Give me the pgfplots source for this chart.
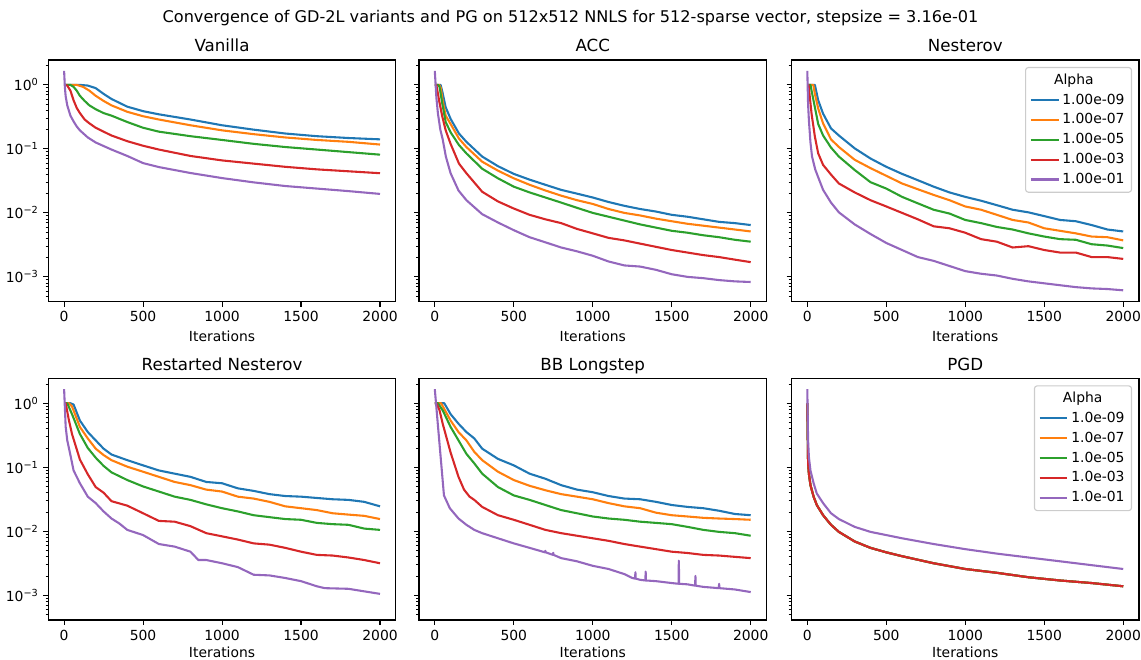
\documentclass[border=0pt]{standalone}
\usepackage{fontspec}
\setmainfont{DejaVu Sans}
\usepackage{pgfplots}
\pgfplotsset{compat=1.18}
\definecolor{c0}{HTML}{1F77B4}
\definecolor{c1}{HTML}{FF7F0E}
\definecolor{c2}{HTML}{2CA02C}
\definecolor{c3}{HTML}{D62728}
\definecolor{c4}{HTML}{9467BD}
\pgfplotsset{
  tick pos=left, tick align=outside,
  major tick length=3.5pt, minor tick length=2pt,
  tick style={black},
  every major tick/.append style={line width=0.8pt},
  every minor tick/.append style={line width=0.6pt},
  axis line style={line width=0.8pt},
  tick label style={font=\fontsize{10}{12}\selectfont},
  label style={font=\fontsize{10}{12}\selectfont},
  xlabel style={yshift=0.7pt},
  title style={font=\fontsize{12}{14}\selectfont, at={(0.5,1)}, anchor=base},
  every axis plot/.append style={line width=1.5pt, line join=round},
  legend cell align=left,
}
\begin{document}
\begin{tikzpicture}
\useasboundingbox (0pt,0pt) rectangle (821.52pt,-474.48pt);
\node[anchor=base, font=\fontsize{11.6}{14}\selectfont] at (410.76pt,-16pt) {Convergence of GD-2L variants and PG on 512x512 NNLS for 512-sparse vector, stepsize = 3.16e-01};

% ---------------- Vanilla
\begin{axis}[scale only axis, width=250.2pt, height=174.0pt, anchor=north west, at={(34.78pt,-43.2pt)},
  ymode=log, xmin=-100, xmax=2100, ymin=4.1e-4, ymax=2.45,
  xtick={0,500,1000,1500,2000}, ytick={1e-3,1e-2,1e-1,1},
  minor ytick={5e-4,6e-4,7e-4,8e-4,9e-4,2e-3,3e-3,4e-3,5e-3,6e-3,7e-3,8e-3,9e-3,2e-2,3e-2,4e-2,5e-2,6e-2,7e-2,8e-2,9e-2,0.2,0.3,0.4,0.5,0.6,0.7,0.8,0.9,2},
  xticklabels={0,500,1000,1500,2000},
  yticklabels={10\textsuperscript{−3},10\textsuperscript{−2},10\textsuperscript{−1},10\textsuperscript{0}},
  xlabel={Iterations}, title={Vanilla}]
\addplot[c0] coordinates {(0,1)(100,1)(150,0.977)(200,0.891)(250,0.724)(300,0.603)(400,0.457)(500,0.389)(600,0.347)(800,0.288)(1000,0.234)(1200,0.2)(1400,0.174)(1600,0.158)(1800,0.148)(2000,0.141)};
\addplot[c1] coordinates {(0,1)(80,1)(120,0.933)(160,0.813)(200,0.676)(250,0.562)(300,0.479)(400,0.380)(500,0.324)(600,0.288)(800,0.234)(1000,0.195)(1200,0.170)(1400,0.151)(1600,0.138)(1800,0.129)(2000,0.117)};
\addplot[c2] coordinates {(0,1)(40,1)(60,0.933)(80,0.813)(100,0.676)(130,0.562)(160,0.479)(200,0.417)(250,0.363)(300,0.331)(400,0.263)(500,0.214)(600,0.186)(800,0.158)(1000,0.138)(1200,0.120)(1400,0.107)(1600,0.0977)(1800,0.0891)(2000,0.0813)};
\addplot[c3] coordinates {(0,1)(20,0.977)(40,0.813)(60,0.575)(80,0.437)(100,0.363)(130,0.288)(160,0.251)(200,0.214)(250,0.186)(300,0.162)(400,0.132)(500,0.112)(600,0.0977)(800,0.0776)(1000,0.0661)(1200,0.0589)(1400,0.0525)(1600,0.0479)(1800,0.0447)(2000,0.0417)};
\addplot[c4] coordinates {(0,1.66)(5,0.912)(10,0.661)(20,0.479)(40,0.331)(60,0.269)(80,0.224)(100,0.195)(150,0.151)(200,0.126)(300,0.0977)(400,0.0776)(500,0.060)(600,0.0520)(800,0.0420)(1000,0.0350)(1200,0.0300)(1400,0.0263)(1600,0.024)(1800,0.0219)(2000,0.0198)};
\end{axis}

% ---------------- ACC
\begin{axis}[scale only axis, width=250.2pt, height=174.0pt, anchor=north west, at={(301.68pt,-43.2pt)},
  ymode=log, xmin=-100, xmax=2100, ymin=4.1e-4, ymax=2.45,
  xtick={0,500,1000,1500,2000}, ytick={1e-3,1e-2,1e-1,1},
  minor ytick={5e-4,6e-4,7e-4,8e-4,9e-4,2e-3,3e-3,4e-3,5e-3,6e-3,7e-3,8e-3,9e-3,2e-2,3e-2,4e-2,5e-2,6e-2,7e-2,8e-2,9e-2,0.2,0.3,0.4,0.5,0.6,0.7,0.8,0.9,2},
  xticklabels={0,500,1000,1500,2000}, yticklabels={},
  xlabel={Iterations}, title={ACC}]
\addplot[c0] coordinates {(0,1)(37,1)(48,0.776)(69,0.447)(100,0.295)(153,0.174)(200,0.129)(300,0.0759)(400,0.0537)(500,0.0407)(600,0.0331)(700,0.0275)(800,0.0229)(900,0.0200)(1000,0.0174)(1100,0.0148)(1200,0.0129)(1300,0.0115)(1400,0.0105)(1500,0.00933)(1600,0.00871)(1700,0.00794)(1800,0.00724)(1900,0.00692)(2000,0.00646)};
\addplot[c1] coordinates {(0,1)(28,1)(38,0.891)(50,0.562)(69,0.331)(100,0.245)(153,0.145)(200,0.107)(300,0.0631)(400,0.0457)(500,0.0347)(600,0.0275)(700,0.0224)(800,0.0186)(900,0.0158)(1000,0.0138)(1100,0.0115)(1200,0.0100)(1300,0.00912)(1400,0.00813)(1500,0.00741)(1600,0.00676)(1700,0.00631)(1800,0.00589)(1900,0.00550)(2000,0.00513)};
\addplot[c2] coordinates {(0,1)(20,1)(30,0.933)(48,0.501)(69,0.263)(100,0.182)(153,0.115)(200,0.0851)(300,0.0490)(400,0.0347)(500,0.0257)(600,0.0209)(700,0.0174)(800,0.0145)(900,0.0120)(1000,0.0100)(1100,0.00871)(1200,0.00759)(1300,0.00661)(1400,0.00589)(1500,0.00525)(1600,0.00490)(1700,0.00447)(1800,0.00417)(1900,0.00380)(2000,0.00355)};
\addplot[c3] coordinates {(0,1)(10,1)(27,0.575)(48,0.316)(69,0.195)(100,0.120)(153,0.0589)(200,0.0417)(300,0.0214)(400,0.0151)(500,0.0117)(600,0.00933)(700,0.00794)(800,0.00692)(900,0.00562)(1000,0.00479)(1100,0.00407)(1200,0.00372)(1300,0.00331)(1400,0.00295)(1500,0.00263)(1600,0.00240)(1700,0.00219)(1800,0.00204)(1900,0.00186)(2000,0.00170)};
\addplot[c4] coordinates {(0,1.66)(10,0.631)(20,0.355)(35,0.200)(50,0.141)(70,0.0759)(100,0.0417)(150,0.0224)(200,0.0158)(300,0.00955)(400,0.00708)(500,0.00537)(600,0.00417)(700,0.00347)(800,0.00288)(900,0.00251)(1000,0.00214)(1100,0.00174)(1200,0.00151)(1300,0.00145)(1400,0.00129)(1500,0.00110)(1600,0.00100)(1700,0.000955)(1800,0.000891)(1900,0.000851)(2000,0.000832)};
\end{axis}

% ---------------- Nesterov
\begin{axis}[scale only axis, width=250.2pt, height=174.0pt, anchor=north west, at={(569.88pt,-43.2pt)},
  ymode=log, xmin=-100, xmax=2100, ymin=4.1e-4, ymax=2.45,
  xtick={0,500,1000,1500,2000}, ytick={1e-3,1e-2,1e-1,1},
  minor ytick={5e-4,6e-4,7e-4,8e-4,9e-4,2e-3,3e-3,4e-3,5e-3,6e-3,7e-3,8e-3,9e-3,2e-2,3e-2,4e-2,5e-2,6e-2,7e-2,8e-2,9e-2,0.2,0.3,0.4,0.5,0.6,0.7,0.8,0.9,2},
  xticklabels={0,500,1000,1500,2000}, yticklabels={},
  xlabel={Iterations}, title={Nesterov},
  legend style={at={(1,1)}, anchor=north east, xshift=-5pt, yshift=-5pt,
      draw=black!20, line width=0.8pt, rounded corners=2pt, fill=white, fill opacity=0.8, text opacity=1,
      font=\fontsize{10}{12}\selectfont, row sep=0pt,
      nodes={inner sep=2pt, text height=8pt, text depth=2.3pt}},
  legend image code/.code={\draw[#1, line width=1.5pt] (0pt,0pt) -- (20pt,0pt);}]
\addlegendimage{empty legend}\addlegendentry{\hspace*{-6pt}Alpha}
\addplot[c0] coordinates {(0,1)(48,1)(69,0.575)(100,0.355)(150,0.209)(200,0.162)(300,0.102)(400,0.0708)(500,0.0525)(600,0.0407)(700,0.0324)(800,0.0257)(900,0.0209)(1000,0.0178)(1100,0.0155)(1200,0.0132)(1300,0.0112)(1400,0.0102)(1500,0.00891)(1600,0.00776)(1700,0.00741)(1800,0.00646)(1900,0.00550)(2000,0.00513)};
\addlegendentry{1.00e-09}
\addplot[c1] coordinates {(0,1)(38,1)(48,0.724)(69,0.427)(100,0.25)(150,0.141)(200,0.107)(300,0.0676)(400,0.0501)(500,0.0380)(600,0.0288)(700,0.0234)(800,0.0191)(900,0.0158)(1000,0.0126)(1100,0.0112)(1200,0.00933)(1300,0.00776)(1400,0.00708)(1500,0.00575)(1600,0.00525)(1700,0.00479)(1800,0.00427)(1900,0.00417)(2000,0.00372)};
\addlegendentry{1.00e-07}
\addplot[c2] coordinates {(0,1)(20,1)(27,0.813)(48,0.447)(69,0.245)(100,0.162)(150,0.105)(200,0.0759)(300,0.0468)(400,0.0302)(500,0.0240)(600,0.0178)(700,0.0141)(800,0.0112)(900,0.00977)(1000,0.00776)(1100,0.00692)(1200,0.00603)(1300,0.00550)(1400,0.00479)(1500,0.00427)(1600,0.00389)(1700,0.00380)(1800,0.00324)(1900,0.00309)(2000,0.00282)};
\addlegendentry{1.00e-05}
\addplot[c3] coordinates {(0,1)(8,1)(16,0.646)(27,0.355)(48,0.155)(69,0.0851)(100,0.0562)(153,0.0389)(200,0.0288)(300,0.0209)(400,0.0158)(500,0.0126)(600,0.0100)(700,0.00794)(800,0.00617)(900,0.00575)(1000,0.00490)(1100,0.00389)(1200,0.00355)(1300,0.00288)(1400,0.00302)(1500,0.00263)(1600,0.00240)(1700,0.00240)(1800,0.00204)(1900,0.00204)(2000,0.00191)};
\addlegendentry{1.00e-03}
\addplot[c4] coordinates {(0,1.66)(5,0.501)(10,0.282)(20,0.126)(30,0.0759)(50,0.0479)(70,0.0355)(100,0.0229)(150,0.0145)(200,0.0102)(300,0.00661)(400,0.00468)(500,0.00339)(600,0.00263)(700,0.00204)(800,0.00178)(900,0.00148)(1000,0.00123)(1100,0.00112)(1200,0.00105)(1300,0.000933)(1400,0.000851)(1500,0.000794)(1600,0.000741)(1700,0.000692)(1800,0.000661)(1900,0.000646)(2000,0.000617)};
\addlegendentry{1.00e-01}
\end{axis}

% ---------------- Restarted Nesterov
\begin{axis}[scale only axis, width=250.2pt, height=174.0pt, anchor=north west, at={(34.78pt,-272.4pt)},
  ymode=log, xmin=-100, xmax=2100, ymin=4.1e-4, ymax=2.45,
  xtick={0,500,1000,1500,2000}, ytick={1e-3,1e-2,1e-1,1},
  minor ytick={5e-4,6e-4,7e-4,8e-4,9e-4,2e-3,3e-3,4e-3,5e-3,6e-3,7e-3,8e-3,9e-3,2e-2,3e-2,4e-2,5e-2,6e-2,7e-2,8e-2,9e-2,0.2,0.3,0.4,0.5,0.6,0.7,0.8,0.9,2},
  xticklabels={0,500,1000,1500,2000},
  yticklabels={10\textsuperscript{−3},10\textsuperscript{−2},10\textsuperscript{−1},10\textsuperscript{0}},
  xlabel={Iterations}, xlabel style={yshift=1.5pt}, title={Restarted Nesterov}]
\addplot[c0] coordinates {(0,1)(40,1)(60,0.955)(100,0.537)(150,0.355)(200,0.263)(250,0.195)(300,0.158)(400,0.129)(500,0.107)(600,0.0891)(700,0.0794)(800,0.0708)(900,0.0589)(1000,0.0562)(1100,0.0468)(1200,0.0427)(1300,0.0380)(1400,0.0355)(1500,0.0347)(1600,0.0331)(1700,0.0316)(1800,0.0309)(1900,0.0288)(2000,0.0245)};
\addplot[c1] coordinates {(0,1)(30,1)(50,0.891)(100,0.427)(150,0.282)(200,0.195)(250,0.155)(300,0.129)(400,0.102)(500,0.0851)(600,0.0708)(700,0.0589)(800,0.0525)(900,0.0447)(1000,0.0417)(1100,0.0347)(1200,0.0324)(1300,0.0288)(1400,0.0245)(1500,0.0229)(1600,0.0214)(1700,0.0191)(1800,0.0182)(1900,0.0174)(2000,0.0155)};
\addplot[c2] coordinates {(0,1)(20,1)(50,0.676)(100,0.331)(150,0.200)(200,0.141)(250,0.105)(300,0.0832)(400,0.0631)(500,0.0501)(600,0.0417)(700,0.0347)(800,0.0309)(900,0.0263)(1000,0.0229)(1100,0.0204)(1200,0.0178)(1300,0.0166)(1400,0.0155)(1500,0.0151)(1600,0.0135)(1700,0.0129)(1800,0.0126)(1900,0.0110)(2000,0.0105)};
\addplot[c3] coordinates {(0,1)(10,1)(30,0.550)(50,0.331)(100,0.132)(150,0.0776)(200,0.0490)(250,0.0400)(300,0.0295)(400,0.0251)(500,0.0191)(600,0.0145)(700,0.0141)(800,0.0120)(900,0.00933)(1000,0.00832)(1100,0.00741)(1200,0.00646)(1300,0.00617)(1400,0.00550)(1500,0.00479)(1600,0.00427)(1700,0.00417)(1800,0.00389)(1900,0.00355)(2000,0.00316)};
\addplot[c4] coordinates {(0,1.66)(10,0.427)(20,0.263)(40,0.155)(60,0.0891)(80,0.0708)(100,0.0562)(150,0.0347)(200,0.0275)(250,0.0204)(300,0.0158)(350,0.0132)(400,0.0105)(500,0.00871)(600,0.00631)(700,0.00575)(800,0.00479)(850,0.00355)(900,0.00355)(1000,0.00316)(1100,0.00275)(1200,0.00209)(1300,0.00204)(1400,0.00186)(1500,0.00166)(1600,0.00138)(1650,0.00129)(1800,0.00126)(1900,0.00115)(2000,0.00105)};
\end{axis}

% ---------------- BB Longstep
\begin{axis}[scale only axis, width=250.2pt, height=174.0pt, anchor=north west, at={(301.68pt,-272.4pt)},
  ymode=log, xmin=-100, xmax=2100, ymin=4.1e-4, ymax=2.45,
  xtick={0,500,1000,1500,2000}, ytick={1e-3,1e-2,1e-1,1},
  minor ytick={5e-4,6e-4,7e-4,8e-4,9e-4,2e-3,3e-3,4e-3,5e-3,6e-3,7e-3,8e-3,9e-3,2e-2,3e-2,4e-2,5e-2,6e-2,7e-2,8e-2,9e-2,0.2,0.3,0.4,0.5,0.6,0.7,0.8,0.9,2},
  xticklabels={0,500,1000,1500,2000}, yticklabels={},
  xlabel={Iterations}, xlabel style={yshift=1.5pt}, title={BB Longstep}]
\addplot[c0] coordinates {(0,1)(60,1)(100,0.676)(150,0.479)(200,0.355)(250,0.282)(300,0.195)(400,0.135)(500,0.107)(600,0.0794)(700,0.0661)(800,0.0525)(900,0.0447)(1000,0.0407)(1100,0.0355)(1200,0.0324)(1300,0.0316)(1400,0.0288)(1500,0.0257)(1600,0.0240)(1700,0.0229)(1800,0.0209)(1900,0.0186)(2000,0.0178)};
\addplot[c1] coordinates {(0,1)(40,1)(100,0.537)(150,0.355)(200,0.263)(250,0.174)(300,0.129)(400,0.0851)(500,0.0631)(600,0.0513)(700,0.0437)(800,0.0380)(900,0.0347)(1000,0.0316)(1100,0.0275)(1200,0.0245)(1300,0.0229)(1400,0.0195)(1500,0.0178)(1600,0.0170)(1700,0.0162)(1800,0.0158)(1900,0.0155)(2000,0.0151)};
\addplot[c2] coordinates {(0,1)(20,1)(50,0.776)(100,0.427)(150,0.263)(200,0.162)(250,0.115)(300,0.0794)(400,0.0490)(500,0.0363)(600,0.0309)(700,0.0257)(800,0.0214)(900,0.0191)(1000,0.0170)(1100,0.0158)(1200,0.0151)(1300,0.0141)(1400,0.0135)(1500,0.0129)(1600,0.0117)(1700,0.0105)(1800,0.00977)(1900,0.00933)(2000,0.00851)};
\addplot[c3] coordinates {(0,1)(10,1)(30,0.776)(50,0.479)(100,0.170)(150,0.0708)(185,0.0447)(220,0.0347)(250,0.0309)(300,0.0240)(400,0.0178)(500,0.0151)(600,0.0126)(700,0.0105)(800,0.00933)(900,0.00851)(1000,0.00776)(1100,0.00708)(1200,0.00631)(1300,0.00575)(1400,0.00525)(1500,0.00479)(1600,0.00457)(1700,0.00427)(1800,0.00417)(1900,0.00398)(2000,0.00380)};
\addplot[c4] coordinates {(0,1.66)(58,0.0363)(95,0.0229)(150,0.0158)(200,0.0126)(250,0.0105)(300,0.00933)(400,0.00776)(500,0.00646)(600,0.00550)(698,0.00468)(700,0.00495)(702,0.00468)(748,0.00427)(750,0.00460)(752,0.00427)(800,0.00380)(900,0.00339)(1000,0.00288)(1100,0.00257)(1200,0.00214)(1250,0.00186)(1268,0.00182)(1270,0.00229)(1272,0.00182)(1300,0.00174)(1333,0.00170)(1335,0.00234)(1337,0.00170)(1400,0.00166)(1500,0.00155)(1543,0.00151)(1545,0.00347)(1547,0.00151)(1600,0.00148)(1648,0.00141)(1650,0.00200)(1652,0.00141)(1700,0.00135)(1798,0.00129)(1800,0.00151)(1802,0.00129)(1900,0.00123)(2000,0.00112)};
\end{axis}

% ---------------- PGD
\begin{axis}[scale only axis, width=250.2pt, height=174.0pt, anchor=north west, at={(569.88pt,-272.4pt)},
  ymode=log, xmin=-100, xmax=2100, ymin=4.1e-4, ymax=2.45,
  xtick={0,500,1000,1500,2000}, ytick={1e-3,1e-2,1e-1,1},
  minor ytick={5e-4,6e-4,7e-4,8e-4,9e-4,2e-3,3e-3,4e-3,5e-3,6e-3,7e-3,8e-3,9e-3,2e-2,3e-2,4e-2,5e-2,6e-2,7e-2,8e-2,9e-2,0.2,0.3,0.4,0.5,0.6,0.7,0.8,0.9,2},
  xticklabels={0,500,1000,1500,2000}, yticklabels={},
  xlabel={Iterations}, xlabel style={yshift=1.5pt}, title={PGD},
  legend style={at={(1,1)}, anchor=north east, xshift=-5pt, yshift=-5pt,
      draw=black!20, line width=0.8pt, rounded corners=2pt, fill=white, fill opacity=0.8, text opacity=1,
      font=\fontsize{10}{12}\selectfont, row sep=0pt,
      nodes={inner sep=2pt, text height=8pt, text depth=2.3pt}},
  legend image code/.code={\draw[#1, line width=1.5pt] (0pt,0pt) -- (20pt,0pt);}]
\addlegendimage{empty legend}\addlegendentry{\hspace*{-6pt}Alpha}
\addplot[c0] coordinates {(0,1)(5,0.115)(10,0.0794)(20,0.0525)(40,0.0347)(60,0.0257)(100,0.0178)(150,0.0126)(200,0.00977)(300,0.00692)(400,0.00550)(500,0.00468)(600,0.00407)(800,0.00316)(1000,0.00257)(1200,0.00224)(1400,0.00191)(1600,0.00170)(1800,0.00155)(2000,0.00138)};
\addlegendentry{1.0e-09}
\addplot[c1] coordinates {(0,1)(5,0.115)(10,0.0794)(20,0.0525)(40,0.0347)(60,0.0257)(100,0.0178)(150,0.0126)(200,0.00977)(300,0.00692)(400,0.00550)(500,0.00468)(600,0.00407)(800,0.00316)(1000,0.00257)(1200,0.00224)(1400,0.00191)(1600,0.00170)(1800,0.00155)(2000,0.00138)};
\addlegendentry{1.0e-07}
\addplot[c2] coordinates {(0,1)(5,0.115)(10,0.0794)(20,0.0525)(40,0.0347)(60,0.0257)(100,0.0178)(150,0.0126)(200,0.00977)(300,0.00692)(400,0.00550)(500,0.00468)(600,0.00407)(800,0.00316)(1000,0.00257)(1200,0.00224)(1400,0.00191)(1600,0.00170)(1800,0.00155)(2000,0.00138)};
\addlegendentry{1.0e-05}
\addplot[c3] coordinates {(0,1)(5,0.115)(10,0.0794)(20,0.0525)(40,0.0347)(60,0.0257)(100,0.0178)(150,0.0126)(200,0.00977)(300,0.00692)(400,0.00550)(500,0.00468)(600,0.00407)(800,0.00316)(1000,0.00257)(1200,0.00224)(1400,0.00191)(1600,0.00170)(1800,0.00155)(2000,0.00138)};
\addlegendentry{1.0e-03}
\addplot[c4] coordinates {(0,1.66)(5,0.263)(10,0.145)(20,0.0891)(40,0.0562)(60,0.0389)(100,0.0275)(150,0.0191)(200,0.0155)(300,0.0117)(400,0.00977)(500,0.00871)(600,0.00776)(800,0.00631)(1000,0.00525)(1200,0.00447)(1400,0.00389)(1600,0.00339)(1800,0.00295)(2000,0.00257)};
\addlegendentry{1.0e-01}
\end{axis}
\end{tikzpicture}
\end{document}
